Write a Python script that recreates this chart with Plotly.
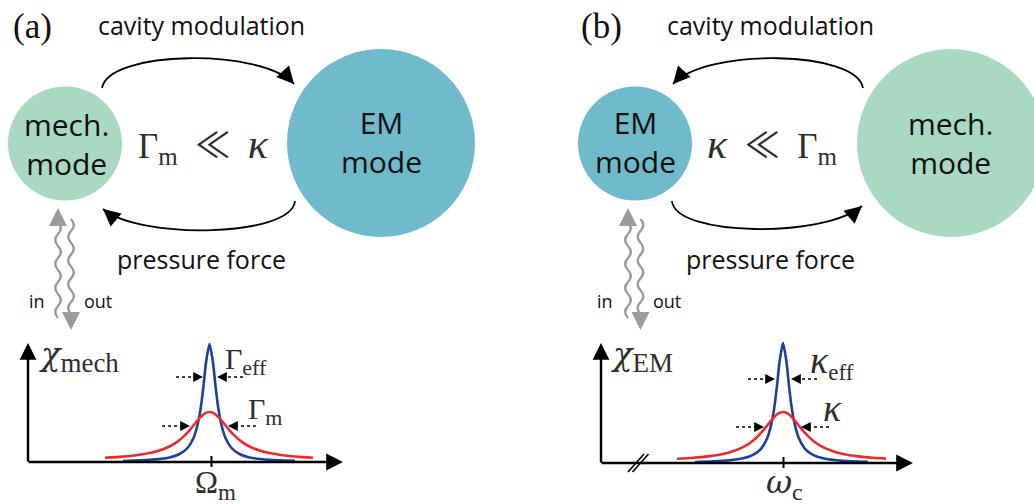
import math
import plotly.graph_objects as go

W, H = 1034, 504

# ---------------- data ----------------
# panel (a): mechanical susceptibility; x = detuning from Omega_m, y = |chi| (arb. units)
red_a_x = [-10.45, -9, -7.5, -6, -5, -4, -3.2, -2.6, -2, -1.5, -1, -0.5, 0,
           0.5, 1, 1.5, 2, 2.6, 3.2, 4, 5, 6, 7.5, 9, 10.35]
red_a_y = [0.42, 0.51, 0.65, 0.89, 1.15, 1.55, 2.04, 2.54, 3.17, 3.78, 4.38, 4.84, 5.0,
           4.84, 4.38, 3.78, 3.17, 2.54, 2.04, 1.55, 1.15, 0.89, 0.65, 0.51, 0.43]
blue_a_x = [-8.65, -6, -4, -3, -2.2, -1.6, -1.2, -0.9, -0.6, -0.35, 0,
            0.35, 0.6, 0.9, 1.2, 1.6, 2.2, 3, 4, 6, 8.55]
blue_a_y = [0.10, 0.21, 0.46, 0.80, 1.40, 2.40, 3.70, 5.25, 7.60, 9.95, 11.8,
            9.95, 7.60, 5.25, 3.70, 2.40, 1.40, 0.80, 0.46, 0.21, 0.11]

# panel (b): EM susceptibility; x = detuning from omega_c
red_b_x = [-10.6, -9, -7.5, -6, -5, -4, -3.2, -2.6, -2, -1.5, -1, -0.5, 0,
           0.5, 1, 1.5, 2, 2.6, 3.2, 4, 5, 6, 7.5, 9, 10.3]
red_b_y = [0.42, 0.52, 0.66, 0.90, 1.17, 1.58, 2.08, 2.59, 3.23, 3.85, 4.46, 4.93, 5.1,
           4.93, 4.46, 3.85, 3.23, 2.59, 2.08, 1.58, 1.17, 0.90, 0.66, 0.52, 0.44]
blue_b_x = [-8.8, -6, -4, -3, -2.2, -1.6, -1.2, -0.9, -0.6, -0.35, 0,
            0.35, 0.6, 0.9, 1.2, 1.6, 2.2, 3, 4, 6, 8.5]
blue_b_y = [0.10, 0.21, 0.47, 0.81, 1.42, 2.44, 3.76, 5.34, 7.72, 10.1, 12.0,
            10.1, 7.72, 5.34, 3.76, 2.44, 1.42, 0.81, 0.47, 0.21, 0.11]

# text labels
panel_labels = ["(a)", "(b)"]
top_labels = ["cavity modulation", "cavity modulation"]
bottom_labels = ["pressure force", "pressure force"]

# ---------------- styling ----------------
RED = "#EC2A2C"
BLUE = "#1F3F9C"
GREEN = "#A9D9C2"
TEAL = "#6FBACB"
GRAY = "#9B9B9B"
SANS = "Open Sans"
SERIF = "Liberation Serif"
MATHC = "#2e2e2e"
SP = "\u00a0\u2005"

U = 10.0  # pixels per data unit in the inset plots
cxa, y0a = 209.5, 462.0   # inset (a) centre / baseline in page pixels
cxb, y0b = 783.0, 463.0   # inset (b)

fig = go.Figure()
fig.add_trace(go.Scatter(x=[0, W], y=[0, H], mode="markers", marker=dict(opacity=0),
                         hoverinfo="skip", xaxis="x", yaxis="y"))

line_kw = dict(width=2.6, shape="spline", smoothing=0.6)
fig.add_trace(go.Scatter(x=blue_a_x, y=blue_a_y, mode="lines", line=dict(color=BLUE, **line_kw),
                         xaxis="x2", yaxis="y2", hoverinfo="skip"))
fig.add_trace(go.Scatter(x=red_a_x, y=red_a_y, mode="lines", line=dict(color=RED, **line_kw),
                         xaxis="x2", yaxis="y2", hoverinfo="skip"))
fig.add_trace(go.Scatter(x=blue_b_x, y=blue_b_y, mode="lines", line=dict(color=BLUE, **line_kw),
                         xaxis="x3", yaxis="y3", hoverinfo="skip"))
fig.add_trace(go.Scatter(x=red_b_x, y=red_b_y, mode="lines", line=dict(color=RED, **line_kw),
                         xaxis="x3", yaxis="y3", hoverinfo="skip"))

shapes = []
anns = []


def circle(cx, cy, r, color):
    shapes.append(dict(type="circle", xref="x", yref="y", x0=cx - r, x1=cx + r,
                       y0=cy - r, y1=cy + r, fillcolor=color, line=dict(width=0), layer="below"))


def head(tip, tail, color="black", width=1.8, size=1.4, style=2):
    anns.append(dict(x=tip[0], y=tip[1], ax=tail[0], ay=tail[1], xref="x", yref="y",
                     axref="x", ayref="y", text="", showarrow=True, arrowhead=style,
                     arrowsize=size, arrowwidth=width, arrowcolor=color))


def curved(p0, c1, c2, p3):
    shapes.append(dict(type="path", xref="x", yref="y",
                       path=f"M {p0[0]},{p0[1]} C {c1[0]},{c1[1]} {c2[0]},{c2[1]} {p3[0]},{p3[1]}",
                       line=dict(color="black", width=1.8)))
    dx, dy = p3[0] - c2[0], p3[1] - c2[1]
    n = math.hypot(dx, dy)
    head(p3, (p3[0] - dx / n * 12, p3[1] - dy / n * 12), size=1.9)


def wavy(x, ya, yb, amp=2.8, hp=12):
    n = max(1, round(abs(yb - ya) / hp))
    step = (yb - ya) / n
    d = f"M {x},{ya}"
    s = 1
    for i in range(n):
        d += f" Q {x + 2 * amp * s},{ya + step * (i + 0.5)} {x},{ya + step * (i + 1)}"
        s = -s
    shapes.append(dict(type="path", xref="x", yref="y", path=d, line=dict(color=GRAY, width=2.4)))


def dotted(xs, xt, y):
    dr = 1 if xt > xs else -1
    shapes.append(dict(type="line", xref="x", yref="y", x0=xs, x1=xt - dr * 6, y0=y, y1=y,
                       line=dict(color="black", width=1.5, dash="dot")))
    head((xt, y), (xt - dr * 8, y), width=1.4, size=1.4)


def text(x, y, s, size, family, color="#111111", xanchor="center"):
    anns.append(dict(x=x, y=y, xref="x", yref="y", text=s, showarrow=False,
                     font=dict(size=size, family=family, color=color),
                     xanchor=xanchor, yanchor="middle"))


def gk(ch):
    return f'<span style="font-family:DejaVu Serif"><i>{ch}</i></span>'


def kap(px):
    return f'<span style="font-size:{px}px"><i>κ</i></span>'


def sub(t, px):
    return f'<sub><span style="font-size:{px}px">{t}</span></sub>'


LL = '<span style="font-family:Noto Sans CJK JP">≪</span>'

# ---- circles ----
circle(65, 143.5, 57, GREEN)
circle(381, 143, 94, TEAL)
circle(635, 143.5, 57, TEAL)
circle(951, 143, 94, GREEN)

text(66, 144, "mech.<br>mode", 30, SANS)
text(381, 142, "EM<br>mode", 30, SANS)
text(635, 142, "EM<br>mode", 30, SANS)
text(950, 143, "mech.<br>mode", 30, SANS)

# ---- panel labels and captions ----
text(32, 26, panel_labels[0], 35, SERIF)
text(601, 26, panel_labels[1], 35, SERIF)
text(201, 25, top_labels[0], 25, SANS)
text(770, 25, top_labels[1], 25, SANS)
text(201, 259, bottom_labels[0], 25, SANS)
text(770, 259, bottom_labels[1], 25, SANS)
text(203, 143, "Γ" + sub("m", 25) + SP + LL + SP + kap(42), 35, SERIF, MATHC)
text(772, 143, kap(42) + SP + LL + SP + "Γ" + sub("m", 25), 35, SERIF, MATHC)

# ---- curved arrows ----
curved((102, 88), (108, 50), (262, 48), (294, 84))
curved((295, 201), (292, 237), (140, 240), (103, 209))
curved((863, 88), (857, 50), (705, 48), (673, 84))
curved((672, 201), (675, 237), (825, 238), (862, 206))

# ---- in/out wavy lines ----
for xl, xr in [(58, 71), (628, 640.5)]:
    wavy(xl, 222, 318)
    head((xl, 208), (xl, 224), color=GRAY, width=2.4, size=1.5)
    wavy(xr, 219, 314)
    head((xr, 330), (xr, 314), color=GRAY, width=2.4, size=1.5)
text(37, 301, "in", 18, SANS)
text(97.5, 301, "out", 18, SANS)
text(605, 301, "in", 18, SANS)
text(667, 301, "out", 18, SANS)

# ---- inset axes ----
head((343, y0a), (27, y0a), width=2.4, size=1.4)
head((28, 343), (28, y0a + 1), width=2.4, size=1.4)
head((913, y0b), (600, y0b), width=2.4, size=1.4)
head((601, 343), (601, y0b + 1), width=2.4, size=1.4)
shapes.append(dict(type="line", xref="x", yref="y", x0=211.5, x1=211.5, y0=456, y1=467,
                   line=dict(color="black", width=2)))
shapes.append(dict(type="line", xref="x", yref="y", x0=783.5, x1=783.5, y0=457, y1=468,
                   line=dict(color="black", width=2)))
# axis break
shapes.append(dict(type="line", xref="x", yref="y", x0=628, x1=644, y0=472, y1=454,
                   line=dict(color="black", width=1.6)))
shapes.append(dict(type="line", xref="x", yref="y", x0=632.5, x1=648.5, y0=472, y1=454,
                   line=dict(color="black", width=1.6)))

# ---- dotted width arrows ----
dotted(176, 203, 377); dotted(243, 217, 377)
dotted(162, 190, 426); dotted(256, 228, 426)
dotted(748, 775, 379); dotted(817, 791, 379)
dotted(736, 764, 427); dotted(829, 801, 427)

# ---- inset math labels ----
text(37, 356, gk("χ") + sub("mech", 27), 32, SERIF, MATHC, xanchor="left")
text(215, 485, "Ω" + sub("m", 23), 31, SERIF, MATHC)
text(246, 361, "Γ" + sub("eff", 22), 30, SERIF, MATHC)
text(265, 411, "Γ" + sub("m", 22), 30, SERIF, MATHC)
text(609, 356, gk("χ") + sub("EM", 27), 32, SERIF, MATHC, xanchor="left")
text(784, 484, gk("ω") + sub("c", 24), 32, SERIF, MATHC)
text(832, 362, kap(38) + sub("eff", 23), 32, SERIF, MATHC)
text(832, 408, kap(38), 32, SERIF, MATHC)

fig.update_layout(
    width=W, height=H, margin=dict(l=0, r=0, t=0, b=0),
    paper_bgcolor="white", plot_bgcolor="white", showlegend=False,
    xaxis=dict(range=[0, W], visible=False, fixedrange=True),
    yaxis=dict(range=[H, 0], visible=False, fixedrange=True),
    xaxis2=dict(overlaying="x", range=[-cxa / U, (W - cxa) / U], visible=False),
    yaxis2=dict(overlaying="y", range=[-(H - y0a) / U, y0a / U], visible=False),
    xaxis3=dict(overlaying="x", range=[-cxb / U, (W - cxb) / U], visible=False),
    yaxis3=dict(overlaying="y", range=[-(H - y0b) / U, y0b / U], visible=False),
    shapes=shapes, annotations=anns,
)

fig.write_html("out.html", config={"displayModeBar": False})
